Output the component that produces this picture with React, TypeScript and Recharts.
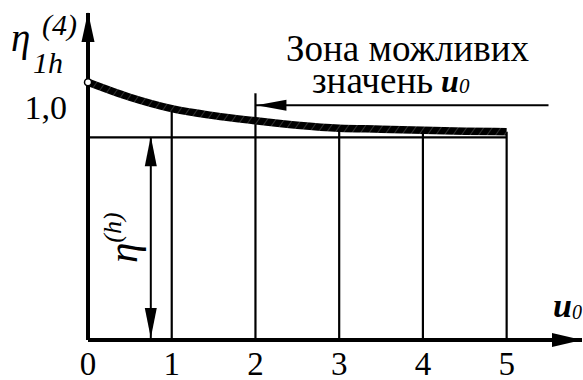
import { LineChart, Line, XAxis, YAxis, ReferenceLine, ReferenceDot } from "recharts";

// values
const uValues = [0, 0.5, 1, 1.5, 2, 2.5, 3, 3.5, 4, 4.5, 5];
const etaValues = [1.107, 1.043, 0.994, 0.964, 0.942, 0.923, 0.91, 0.906, 0.901, 0.897, 0.895];
const xTicks = [0, 1, 2, 3, 4, 5];
const yTicks = [1];
const gridU = [1, 2, 3, 4, 5];
const gridTop = [0.994, 1.06, 0.91, 0.901, 0.895];
const etaH = 0.871;
const etaHMarkU = 0.75;
const zoneLevel = 1.009;
const zoneFrom = 2;
const zoneTo = 5.5;
const uMax = 5.9;
const etaMax = 1.405;

const data = uValues.map((u, i) => ({ u, eta: etaValues[i] }));

const FONT = "Liberation Serif";

function arrowHead(dir: "up" | "down" | "left" | "right", len: number, half: number, shift = 0) {
  return (p: any) => {
    const { cx, cy } = p;
    let d = "";
    if (dir === "up") {
      const y = cy - shift;
      d = `M${cx},${y} L${cx - half},${y + len} L${cx + half},${y + len} Z`;
    } else if (dir === "down") {
      const y = cy + shift;
      d = `M${cx},${y} L${cx - half},${y - len} L${cx + half},${y - len} Z`;
    } else if (dir === "left") {
      const x = cx - shift;
      d = `M${x},${cy} L${x + len},${cy - half} L${x + len},${cy + half} Z`;
    } else {
      const x = cx + shift;
      d = `M${x},${cy} L${x - len},${cy - half} L${x - len},${cy + half} Z`;
    }
    return <path d={d} fill="#000" />;
  };
}

export default function App() {
  return (
    <div
      style={{ position: "absolute", left: 0, top: 0, width: 583, height: 380, background: "#fff", fontFamily: FONT }}
    >
      <LineChart width={583} height={380} data={data} margin={{ top: 13, right: 1, bottom: 0, left: 0 }}>
        <defs>
          <pattern id="hatch" patternUnits="userSpaceOnUse" width="7" height="7" patternTransform="rotate(35)">
            <rect width="7" height="7" fill="#000" />
            <line x1="0" y1="0" x2="0" y2="7" stroke="#777" strokeWidth="0.8" />
          </pattern>
        </defs>
        <XAxis
          type="number"
          dataKey="u"
          domain={[0, uMax]}
          ticks={xTicks}
          allowDataOverflow
          tickLine={false}
          tickMargin={6}
          axisLine={{ stroke: "#000", strokeWidth: 4 }}
          tick={{ fill: "#000", fontSize: 33, style: { fontFamily: FONT } }}
          height={40}
        />
        <YAxis
          type="number"
          domain={[0, etaMax]}
          ticks={yTicks}
          allowDataOverflow
          tickFormatter={() => "1,0"}
          tickLine={false}
          tickMargin={15}
          axisLine={{ stroke: "#000", strokeWidth: 4 }}
          tick={{ fill: "#000", fontSize: 34, style: { fontFamily: FONT } }}
          width={88}
        />
        {gridU.map((u, i) => (
          <ReferenceLine
            key={u}
            segment={[{ x: u, y: 0 }, { x: u, y: gridTop[i] }]}
            stroke="#000"
            strokeWidth={2.2}
            ifOverflow="visible"
          />
        ))}
        <ReferenceLine
          segment={[{ x: 0, y: etaH }, { x: 5, y: etaH }]}
          stroke="#000"
          strokeWidth={2.2}
          ifOverflow="visible"
        />
        <ReferenceLine
          segment={[{ x: etaHMarkU, y: 0 }, { x: etaHMarkU, y: etaH }]}
          stroke="#000"
          strokeWidth={2}
          ifOverflow="visible"
        />
        <ReferenceDot x={etaHMarkU} y={etaH} ifOverflow="visible" shape={arrowHead("up", 30, 6, 1)} />
        <ReferenceDot x={etaHMarkU} y={0} ifOverflow="visible" shape={arrowHead("down", 30, 6, -2)} />
        <ReferenceLine
          segment={[{ x: zoneFrom, y: zoneLevel }, { x: zoneTo, y: zoneLevel }]}
          stroke="#000"
          strokeWidth={2}
          ifOverflow="visible"
        />
        <ReferenceDot x={zoneFrom} y={zoneLevel} ifOverflow="visible" shape={arrowHead("left", 30, 5.5, -1)} />
        <Line
          type="monotone"
          dataKey="eta"
          stroke="url(#hatch)"
          strokeWidth={7.5}
          dot={false}
          isAnimationActive={false}
        />
        <ReferenceDot x={0} y={etaValues[0]} r={3.5} fill="#fff" stroke="#000" strokeWidth={1.5} ifOverflow="visible" />
        <ReferenceDot x={0} y={etaMax} ifOverflow="visible" shape={arrowHead("up", 30, 6.5, 1)} />
        <ReferenceDot x={uMax} y={0} ifOverflow="visible" shape={arrowHead("right", 30, 7, 0)} />
      </LineChart>
      <svg
        width={583}
        height={380}
        style={{ position: "absolute", left: 0, top: 0, pointerEvents: "none", fontFamily: FONT }}
        fill="#000"
      >
        <text x={11} y={51} fontSize={39} fontStyle="italic">η</text>
        <text x={33} y={73} fontSize={30} fontStyle="italic">1h</text>
        <text x={42} y={35} fontSize={30} fontStyle="italic">(4)</text>
        <text x={286} y={61} fontSize={37}>Зона можливих</text>
        <text x={312} y={93} fontSize={37}>значень</text>
        <text x={441} y={92} fontSize={32} fontStyle="italic" fontWeight="bold">u</text>
        <text x={459} y={93} fontSize={21} fontStyle="italic">0</text>
        <text x={553} y={317} fontSize={34} fontStyle="italic" fontWeight="bold">u</text>
        <text x={572} y={319} fontSize={20} fontStyle="italic">0</text>
        <g transform="translate(137,263) rotate(-90)">
          <text fontSize={41} fontStyle="italic">
            η
            <tspan dy={-16} fontSize={26}>(h)</tspan>
          </text>
        </g>
      </svg>
    </div>
  );
}
